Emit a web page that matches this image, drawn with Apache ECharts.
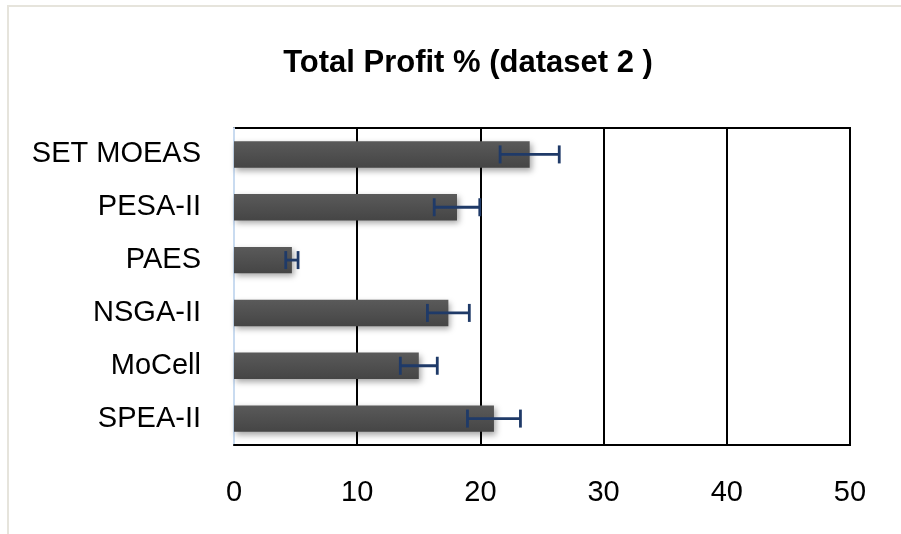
<!DOCTYPE html>
<html>
<head>
<meta charset="utf-8">
<script src="https://cdn.jsdelivr.net/npm/echarts@6/dist/echarts.min.js"></script>
<style>
  html, body { margin: 0; padding: 0; background: #fff; }
  #chart { width: 901px; height: 534px; }
</style>
</head>
<body>
<div id="chart"></div>
<script>
// 数据
const methods = ['SPEA-II', 'MoCell', 'NSGA-II', 'PAES', 'PESA-II', 'SET MOEAS'];
const profit = [21.1, 15.0, 17.4, 4.7, 18.1, 24.0];
const errors = [2.15, 1.5, 1.7, 0.5, 1.85, 2.4];
const xTicks = [0, 10, 20, 30, 40, 50];

const errorData = methods.map((m, i) => [i, profit[i] - errors[i], profit[i] + errors[i]]);

const chart = echarts.init(document.getElementById('chart'));

const option = {
  animation: false,
  title: {
    text: 'Total Profit % (dataset 2 )',
    left: 463,
    top: 43,
    textAlign: 'center',
    textStyle: {
      fontFamily: 'Liberation Sans',
      fontWeight: 'bold',
      fontSize: 31,
      color: '#000'
    }
  },
  graphic: [
    {
      type: 'rect',
      shape: { x: 8, y: 6, width: 1000, height: 1000 },
      style: { fill: 'none', stroke: '#e6e4dc', lineWidth: 2 },
      silent: true
    }
  ],
  grid: {
    left: 234,
    right: 51,
    top: 128,
    bottom: 89,
    show: true,
    borderColor: '#000',
    borderWidth: 2
  },
  xAxis: {
    type: 'value',
    min: xTicks[0],
    max: xTicks[xTicks.length - 1],
    interval: 10,
    axisLine: { show: true, lineStyle: { color: '#000', width: 2 } },
    axisTick: { show: false },
    splitLine: { show: true, lineStyle: { color: '#000', width: 2 } },
    axisLabel: {
      margin: 33,
      fontFamily: 'Liberation Sans',
      fontSize: 29,
      color: '#000'
    }
  },
  yAxis: {
    type: 'category',
    data: methods,
    axisLine: { show: true, lineStyle: { color: '#c9dbf0', width: 2 } },
    axisTick: { show: false },
    axisLabel: {
      margin: 33,
      fontFamily: 'Liberation Sans',
      fontSize: 29,
      color: '#000'
    }
  },
  series: [
    {
      type: 'bar',
      data: profit,
      barCategoryGap: '50%',
      itemStyle: {
        color: new echarts.graphic.LinearGradient(0, 0, 0, 1, [
          { offset: 0, color: '#5a5a5a' },
          { offset: 1, color: '#454545' }
        ]),
        shadowColor: 'rgba(0,0,0,0.35)',
        shadowBlur: 6,
        shadowOffsetX: 2,
        shadowOffsetY: 3
      },
      z: 2
    },
    {
      type: 'custom',
      data: errorData,
      z: 3,
      renderItem: function (params, api) {
        const cat = api.value(0);
        const lo = api.coord([api.value(1), cat]);
        const hi = api.coord([api.value(2), cat]);
        const y = lo[1];
        const h = 9;
        const style = { stroke: '#1f3a68', lineWidth: 2.8 };
        return {
          type: 'group',
          children: [
            { type: 'line', shape: { x1: lo[0], y1: y, x2: hi[0], y2: y }, style: style },
            { type: 'line', shape: { x1: lo[0], y1: y - h, x2: lo[0], y2: y + h }, style: style },
            { type: 'line', shape: { x1: hi[0], y1: y - h, x2: hi[0], y2: y + h }, style: style }
          ]
        };
      }
    }
  ]
};

chart.setOption(option);
</script>
</body>
</html>
